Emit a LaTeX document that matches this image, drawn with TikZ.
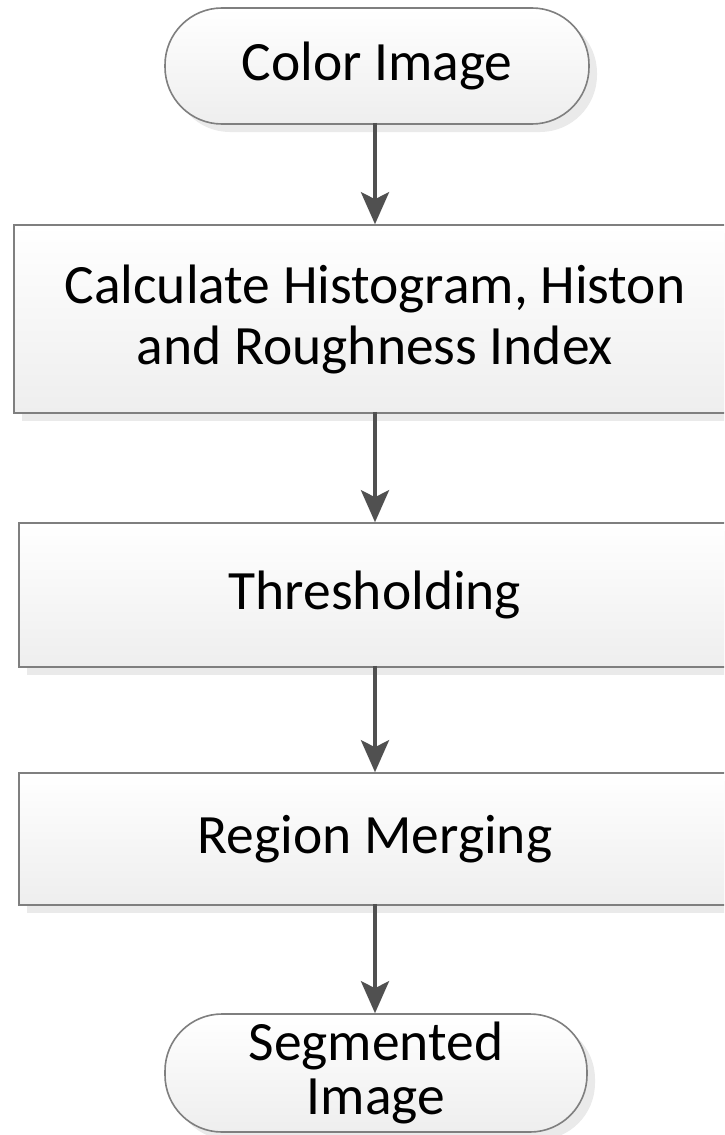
\documentclass[tikz,border=0pt]{standalone}
\usepackage{fontspec}
\setmainfont{Carlito}
\usetikzlibrary{arrows.meta,shadows}
\definecolor{edge}{HTML}{7F7F7F}
\definecolor{flow}{HTML}{505050}
\definecolor{shade}{HTML}{EAEAEA}
\definecolor{boxbot}{HTML}{EEEEEE}
\begin{document}
\begin{tikzpicture}[x=1pt,y=-1pt,
  base/.style={draw=edge, line width=1.6pt, top color=white, bottom color=boxbot,
    inner sep=0pt, align=center, font=\fontsize{55.5}{61}\selectfont,
    drop shadow={shadow xshift=8pt, shadow yshift=-8pt, fill=shade, opacity=1}},
  terminal/.style={base, rectangle, rounded corners=57pt},
  process/.style={base, rectangle},
  flowarrow/.style={draw=flow, line width=4pt,
    -{Stealth[length=32pt, width=28pt, inset=7pt]}, shorten <=-2pt}
]
\useasboundingbox (0,0) rectangle (724,1135);
\clip (0,0) rectangle (724,1135);
\fill[white] (0,0) rectangle (724,1135);

\node[terminal, minimum width=424pt, minimum height=116pt] (start) at (377,66) {Color Image};
\node[process, minimum width=722pt, minimum height=188pt] (calc) at (375,319)
  {Calculate Histogram, Histon\\and Roughness Index};
\node[process, minimum width=712pt, minimum height=144pt] (thresh) at (375,595) {Thresholding};
\node[process, minimum width=712pt, minimum height=132pt] (merge) at (375,839) {Region Merging};
\node[terminal, minimum width=422pt, minimum height=118pt] (stop) at (376,1073)
  {Segmented\\[-7pt]Image};

\draw[flowarrow] (start.south -| 375,0) -- (calc.north);
\draw[flowarrow] (calc.south) -- (thresh.north);
\draw[flowarrow] (thresh.south) -- (merge.north);
\draw[flowarrow] (merge.south) -- (stop.north -| 375,0);
\end{tikzpicture}
\end{document}
